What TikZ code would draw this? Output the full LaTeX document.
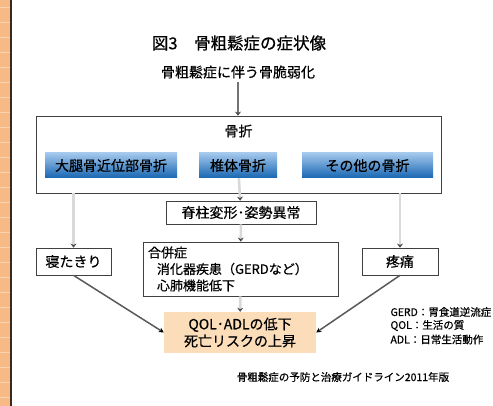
\documentclass[tikz,border=0pt]{standalone}
\usepackage{fontspec}
\setmainfont{Noto Sans CJK JP}[FakeBold=0.6]
\usetikzlibrary{arrows.meta}
\definecolor{stripefill}{HTML}{F7B985}
\definecolor{stripeline}{HTML}{FBD3B0}
\definecolor{stripeedge}{HTML}{3A2A1E}
\definecolor{bluetop}{HTML}{A3C8EC}
\definecolor{bluebottom}{HTML}{1766B3}
\definecolor{resultfill}{HTML}{FBDDBA}
\tikzset{
    plainbox/.style={draw=black!75, fill=white, line width=0.7pt, inner sep=0pt},
    bluebox/.style={top color=bluetop, bottom color=bluebottom, inner sep=0pt, minimum height=25pt, font=\fontsize{14}{16}\selectfont},
    flow/.style={draw=black!15, line width=2.6pt, -{Stealth[length=4pt, width=6pt, color=black!70]}},
    slant/.style={draw=black!65, line width=1.5pt, -{Stealth[length=5pt, width=5pt, color=black]}},
}
\begin{document}
\begin{tikzpicture}[x=1pt, y=-1pt]
                \useasboundingbox (0, 0) rectangle (493, 406);
                \fill[stripefill] (0, 0) rectangle (10.5, 406);
                \foreach \y in {7, 22, ..., 397}
                    \draw[stripeline, line width=0.9pt] (0, \y) -- (10.5, \y);
                \draw[stripeedge, line width=1.3pt] (11, 0) -- (11, 406);
                \node[font=\fontsize{16.5}{19}\selectfont] (title) at (239, 43) {図3　骨粗鬆症の症状像};
                \node[font=\fontsize{14}{16}\selectfont] (cause) at (238, 72) {骨粗鬆症に伴う骨脆弱化};
                \node[plainbox, minimum width=405pt, minimum height=77pt] (fracture) at (238.5, 154.5) {};
                \node[font=\fontsize{14}{16}\selectfont] (fracturetitle) at (238.5, 131) {骨折};
                \node[bluebox, minimum width=132pt] (hip) at (111, 165.5) {大腿骨近位部骨折};
                \node[bluebox, minimum width=78pt] (vertebral) at (238, 165.5) {椎体骨折};
                \node[bluebox, minimum width=131pt] (other) at (367.5, 165.5) {その他の骨折};
                \node[plainbox, minimum width=150pt, minimum height=23pt, font=\fontsize{14}{16}\selectfont] (spine) at (241, 212.5) {脊柱変形･姿勢異常};
                \node[plainbox, minimum width=195pt, minimum height=54pt, text width=185pt, align=left, font=\fontsize{13}{16.5}\selectfont] (complication) at (240.5, 269) {合併症\\\hspace*{9pt}消化器疾患（GERDなど）\\\hspace*{9pt}心肺機能低下};
                \node[plainbox, minimum width=75pt, minimum height=27pt, font=\fontsize{14}{16}\selectfont] (bedridden) at (73.5, 261.5) {寝たきり};
                \node[plainbox, minimum width=76pt, minimum height=27pt, font=\fontsize{14}{16}\selectfont] (pain) at (400, 261.5) {疼痛};
                \node[fill=resultfill, minimum width=152pt, minimum height=41pt, inner sep=0pt, align=center, font=\fontsize{14}{17}\selectfont] (result) at (240, 332.5) {QOL･ADLの低下\\死亡リスクの上昇};
                \node[anchor=west, font=\fontsize{10.5}{12}\selectfont] (gerd) at (387, 312) {GERD：胃食道逆流症};
                \node[anchor=west, font=\fontsize{10.5}{12}\selectfont] (qol) at (387, 325.5) {QOL：生活の質};
                \node[anchor=west, font=\fontsize{10.5}{12}\selectfont] (adl) at (387, 339.5) {ADL：日常生活動作};
                \node[font=\fontsize{10.5}{12}\selectfont] (source) at (343, 377) {骨粗鬆症の予防と治療ガイドライン2011年版};
                \draw[flow, draw=black!55] (cause) -- (cause |- fracture.north);
                \draw[flow] (vertebral) -- (spine);
                \draw[flow] (fracture.south -| bedridden) -- (bedridden);
                \draw[flow] (fracture.south -| pain) -- (pain);
                \draw[flow] (spine) -- (complication);
                \draw[flow] (complication) -- (result);
                \draw[slant] (bedridden.south) -- (result.west);
                \draw[slant] (pain.south) -- (result.east);
            \end{tikzpicture}
\end{document}
